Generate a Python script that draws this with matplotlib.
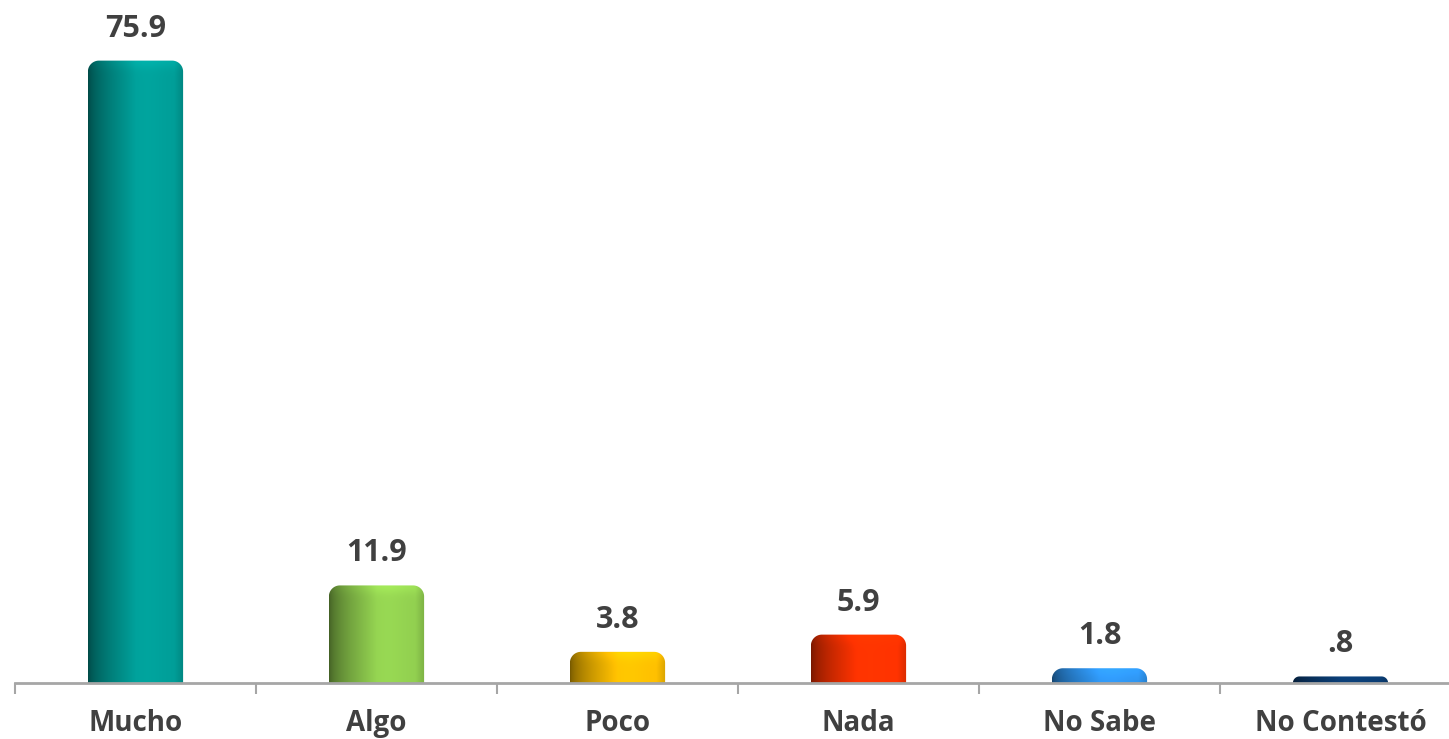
import numpy as np
import matplotlib
matplotlib.use("Agg")
import matplotlib.pyplot as plt
from matplotlib.path import Path
from matplotlib.patches import PathPatch
from matplotlib.colors import to_rgb

categories = ["Mucho", "Algo", "Poco", "Nada", "No Sabe", "No Contestó"]
values = [75.9, 11.9, 3.8, 5.9, 1.8, 0.8]
value_labels = ["75.9", "11.9", "3.8", "5.9", "1.8", ".8"]
colors = ["#009e98", "#92d050", "#ffc000", "#ff3300", "#2f95f0", "#0a3a6e"]

W, H, DPI = 1449, 739, 100
fig = plt.figure(figsize=(W / DPI, H / DPI), dpi=DPI)
left_px, right_px, bottom_px, top_px = 15, 1461, 683, 27
ax = fig.add_axes([left_px / W, (H - bottom_px) / H,
                   (right_px - left_px) / W, (bottom_px - top_px) / H])
ax.set_xlim(-0.5, len(categories) - 0.5)
ax.set_ylim(0, 80)

px_x = (right_px - left_px) / len(categories)   # px per x unit
px_y = (bottom_px - top_px) / 80.0               # px per y unit
bw = 0.395
rad_px = 11


def rounded_top_path(x0, x1, h):
    r_px = min(rad_px, h * px_y)
    rx = r_px / px_x
    ry = r_px / px_y
    t = np.linspace(0, np.pi / 2, 20)
    pts = [(x0, 0)]
    for a in t:
        pts.append((x0 + rx - rx * np.cos(a), h - ry + ry * np.sin(a)))
    for a in t[::-1]:
        pts.append((x1 - rx + rx * np.cos(a), h - ry + ry * np.sin(a)))
    pts.append((x1, 0))
    pts.append((x0, 0))
    return Path(pts, closed=True)


# horizontal shading profile
nx = 200
u = np.linspace(0, 1, nx)
prof = 0.45 + 0.55 * np.clip(u / 0.5, 0, 1) ** 0.6
prof = prof + 0.04 * np.exp(-((u - 0.62) / 0.18) ** 2)
prof = prof * (1 - 0.15 * np.clip((u - 0.9) / 0.1, 0, 1))

for i, (v, c) in enumerate(zip(values, colors)):
    base = np.array(to_rgb(c))
    x0, x1 = i - bw / 2, i + bw / 2
    hpx = max(int(v * px_y), 2)
    ny = max(hpx, 2)
    yy = np.linspace(1, 0, ny)
    dist_top = (1 - yy) * hpx
    vert = 1 + 0.08 * np.exp(-(dist_top / 8.0) ** 2)
    img = prof[None, :, None] * base[None, None, :] * vert[:, None, None]
    img = np.clip(img, 0, 1)
    path = rounded_top_path(x0, x1, v)
    patch = PathPatch(path, facecolor="none", edgecolor="none")
    ax.add_patch(patch)
    im = ax.imshow(img, extent=(x0, x1, 0, v), aspect="auto",
                   interpolation="bilinear", zorder=2)
    im.set_clip_path(patch)
    ax.annotate(value_labels[i], xy=(i, v), xytext=(0, 17),
                textcoords="offset pixels", ha="center", va="bottom",
                fontsize=22, fontweight="bold", color="#404040",
                family="Open Sans")

for s in ["top", "right", "left"]:
    ax.spines[s].set_visible(False)
ax.spines["bottom"].set_color("#a6a6a6")
ax.spines["bottom"].set_linewidth(2)
ax.spines["bottom"].set_zorder(3)
ax.set_yticks([])
ax.set_xticks(range(len(categories)))
ax.set_xticklabels(categories, fontsize=20, fontweight="bold", color="#404040",
                   family="Open Sans")
ax.tick_params(axis="x", which="major", length=0, pad=19)
ax.set_xticks(np.arange(-0.5, len(categories), 1.0), minor=True)
ax.tick_params(axis="x", which="minor", length=8, width=1.5, color="#a6a6a6",
               direction="out")

fig.savefig("out.png", dpi=DPI)
